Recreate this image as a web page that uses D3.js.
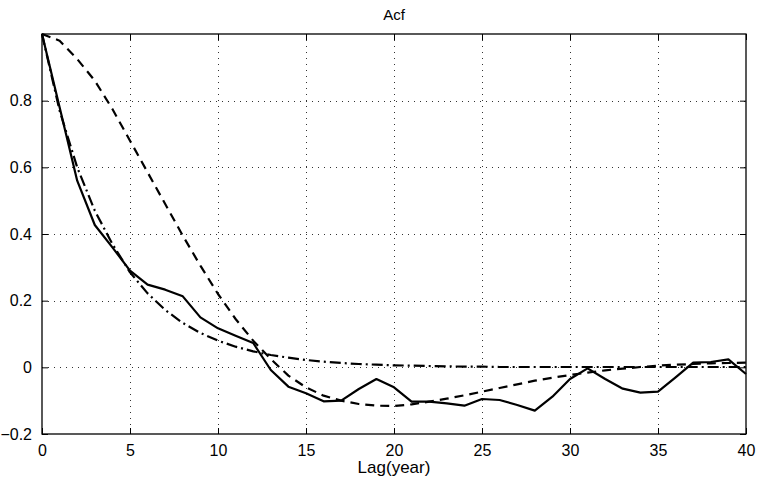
<!DOCTYPE html>
<html>
<head>
<meta charset="utf-8">
<script src="https://cdn.jsdelivr.net/npm/d3@7/dist/d3.min.js"></script>
<style>
  html, body { margin: 0; padding: 0; background: #fff; }
  svg { display: block; }
  text { font-family: "Liberation Sans", Arial, Helvetica, sans-serif; fill: #000; }
</style>
</head>
<body>
<svg id="chart" width="757" height="482"></svg>
<script>
// Lags in years
const lags = d3.range(0, 41);

// Sample autocorrelation (solid)
const acfSample = [
  1.0, 0.78, 0.56, 0.427, 0.36, 0.29, 0.248, 0.233, 0.213, 0.15,
  0.117, 0.095, 0.073, -0.008, -0.058, -0.078, -0.102, -0.1, -0.065, -0.035,
  -0.06, -0.103, -0.103, -0.108, -0.115, -0.095, -0.098, -0.113, -0.13, -0.088,
  -0.035, -0.003, -0.035, -0.064, -0.076, -0.073, -0.03, 0.014, 0.016, 0.024,
  -0.02
];

// Oscillating model autocorrelation (dashed)
const acfModelA = [
  1.0, 0.98, 0.925, 0.86, 0.775, 0.68, 0.585, 0.49, 0.395, 0.305,
  0.22, 0.145, 0.08, 0.025, -0.025, -0.06, -0.085, -0.1, -0.11, -0.115,
  -0.116, -0.111, -0.103, -0.094, -0.084, -0.073, -0.062, -0.051, -0.04, -0.031,
  -0.023, -0.016, -0.009, -0.004, 0.001, 0.005, 0.008, 0.01, 0.012, 0.013,
  0.014
];

// Decaying model autocorrelation (dash-dot)
const acfModelB = [
  1.0, 0.77, 0.6, 0.47, 0.37, 0.285, 0.222, 0.172, 0.133, 0.103,
  0.08, 0.062, 0.048, 0.037, 0.029, 0.022, 0.017, 0.013, 0.01, 0.008,
  0.006, 0.005, 0.004, 0.003, 0.002, 0.002, 0.001, 0.001, 0.001, 0.001,
  0.001, 0.001, 0.001, 0.001, 0.001, 0.001, 0.001, 0.001, 0.001, 0.001,
  0.001
];

const xTicks = [0, 5, 10, 15, 20, 25, 30, 35, 40];
const yTicks = [-0.2, 0, 0.2, 0.4, 0.6, 0.8];
const titleText = "Acf";
const xLabelText = "Lag(year)";

const W = 757, H = 482;
const margin = { top: 34, right: 11, bottom: 48, left: 42 };
const iw = W - margin.left - margin.right;
const ih = H - margin.top - margin.bottom;

const svg = d3.select("#chart");
const g = svg.append("g").attr("transform", `translate(${margin.left},${margin.top})`);

const x = d3.scaleLinear().domain([0, 40]).range([0, iw]);
const y = d3.scaleLinear().domain([-0.2, 1.0]).range([ih, 0]);

// Dotted grid
const grid = g.append("g").attr("class", "grid")
  .attr("stroke", "#333").attr("stroke-width", 1).attr("stroke-dasharray", "1,5");
grid.selectAll("line.v").data(xTicks.filter(t => t > 0 && t < 40)).join("line")
  .attr("x1", d => Math.round(x(d)) + 0.5).attr("x2", d => Math.round(x(d)) + 0.5)
  .attr("y1", 0).attr("y2", ih);
grid.selectAll("line.h").data(yTicks.filter(t => t > -0.2)).join("line")
  .attr("y1", d => Math.round(y(d)) + 0.5).attr("y2", d => Math.round(y(d)) + 0.5)
  .attr("x1", 0).attr("x2", iw);

// Axes with inward ticks on all four sides
const tickLen = 6;
const fmtY = d => (Math.abs(d) < 1e-9 ? "0" : d3.format("")(+d.toFixed(1)));

const xAxisB = d3.axisBottom(x).tickValues(xTicks).tickSize(-tickLen).tickPadding(tickLen + 5);
const xAxisT = d3.axisTop(x).tickValues(xTicks).tickSize(-tickLen).tickFormat("");
const yAxisL = d3.axisLeft(y).tickValues(yTicks).tickSize(-tickLen).tickPadding(tickLen + 4).tickFormat(fmtY);
const yAxisR = d3.axisRight(y).tickValues(yTicks).tickSize(-tickLen).tickFormat("");

function styleAxis(sel) {
  sel.select(".domain").remove();
  sel.selectAll(".tick line").attr("stroke", "#000").attr("stroke-width", 1);
  sel.selectAll(".tick text").attr("font-size", 16)
    .attr("font-family", '"Liberation Sans", Arial, sans-serif');
}

g.append("g").attr("transform", `translate(0,${ih})`).call(xAxisB).call(styleAxis);
g.append("g").call(xAxisT).call(styleAxis);
g.append("g").call(yAxisL).call(styleAxis);
g.append("g").attr("transform", `translate(${iw},0)`).call(yAxisR).call(styleAxis);

// Series lines
const line = d3.line().x((d, i) => x(lags[i])).y(d => y(d));

const plot = g.append("g").attr("fill", "none").attr("stroke", "#000")
  .attr("stroke-width", 2.2).attr("stroke-linejoin", "round");

plot.append("path").datum(acfModelB).attr("d", line)
  .attr("stroke-dasharray", "11,4,2,4");
plot.append("path").datum(acfModelA).attr("d", line)
  .attr("stroke-dasharray", "9,6");
plot.append("path").datum(acfSample).attr("d", line);

// Axes box
g.append("rect").attr("x", 0).attr("y", 0).attr("width", iw).attr("height", ih)
  .attr("fill", "none").attr("stroke", "#000").attr("stroke-width", 1.3);

// Title and axis label
svg.append("text").attr("x", margin.left + iw / 2).attr("y", 20)
  .attr("text-anchor", "middle").attr("font-size", 15).text(titleText);
svg.append("text").attr("x", margin.left + iw / 2).attr("y", 473)
  .attr("text-anchor", "middle").attr("font-size", 17).text(xLabelText);
</script>
</body>
</html>
